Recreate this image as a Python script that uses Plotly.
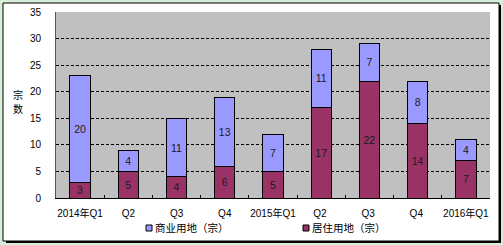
import plotly.graph_objects as go

categories = ["2014年Q1", "Q2", "Q3", "Q4", "2015年Q1", "Q2 ", "Q3 ", "Q4 ", "2016年Q1"]
residential = [3, 5, 4, 6, 5, 17, 22, 14, 7]
commercial = [20, 4, 11, 13, 7, 11, 7, 8, 4]
y_ticks = [0, 5, 10, 15, 20, 25, 30, 35]
legend_names = ["商业用地（宗）", "居住用地（宗）"]
colors = ["#9999ff", "#993366"]

FONT = "Liberation Sans, Arial, Noto Sans CJK SC, sans-serif"
PW, PH = 434, 186  # plot area size in px


def px_x(p):
    return (p - 56) / PW


def px_y(p):
    return (198 - p) / PH


fig = go.Figure()
fig.add_trace(go.Bar(
    x=categories, y=residential, name=legend_names[1], showlegend=False,
    marker=dict(color=colors[1], line=dict(color="#000000", width=1)),
    text=residential, textposition="inside", insidetextanchor="middle",
    textangle=0, textfont=dict(size=10.5, color="#1a1a1a", family=FONT),
))
fig.add_trace(go.Bar(
    x=categories, y=commercial, name=legend_names[0], showlegend=False,
    marker=dict(color=colors[0], line=dict(color="#000000", width=1)),
    text=commercial, textposition="inside", insidetextanchor="middle",
    textangle=0, textfont=dict(size=10.5, color="#1a1a1a", family=FONT),
))

shapes = [
    dict(type="rect", xref="paper", yref="paper", layer="below",
         x0=px_x(6), x1=px_x(501), y0=px_y(243), y1=px_y(5),
         fillcolor="#000000", line=dict(width=0)),
    dict(type="rect", xref="paper", yref="paper", layer="below",
         x0=px_x(3), x1=px_x(499), y0=px_y(241), y1=px_y(3),
         fillcolor="#ffffff", line=dict(color="#000000", width=1)),
    dict(type="rect", xref="paper", yref="paper", layer="below",
         x0=0, x1=1, y0=0, y1=1, fillcolor="#c0c0c0", line=dict(width=0)),
]
annotations = []
for ch, yy in zip(["宗", "数"], [94, 108]):
    annotations.append(dict(text=ch, xref="paper", yref="paper", x=px_x(18), y=px_y(yy),
                            xanchor="center", yanchor="middle", showarrow=False,
                            font=dict(size=10, family="Noto Sans CJK SC")))
leg_x = [146, 303]
for name, col, lx in zip(legend_names, colors, leg_x):
    shapes.append(dict(type="rect", xref="paper", yref="paper",
                       x0=px_x(lx), x1=px_x(lx + 6), y0=px_y(231), y1=px_y(225),
                       fillcolor=col, line=dict(color="#000000", width=1)))
    annotations.append(dict(text=name, xref="paper", yref="paper",
                            x=px_x(lx + 7), y=px_y(228), xanchor="left",
                            yanchor="middle", showarrow=False,
                            font=dict(size=10.5, family=FONT)))

fig.update_layout(
    width=503, height=245,
    barmode="stack", bargap=0.58,
    margin=dict(l=56, r=13, t=12, b=47),
    paper_bgcolor="#d9eed9", plot_bgcolor="rgba(0,0,0,0)",
    font=dict(family=FONT, size=10, color="#000000"),
    uniformtext=dict(minsize=9, mode="show"),
    showlegend=False,
    xaxis=dict(
        type="category", tickson="boundaries", ticks="inside", ticklen=3,
        tickcolor="#000000", showline=True, linecolor="#000000", linewidth=1,
        showgrid=False, tickfont=dict(size=10), ticklabelstandoff=6,
        tickangle=0, automargin=False,
    ),
    yaxis=dict(
        range=[0, 35], tickvals=y_ticks, showline=True, linecolor="#555555",
        linewidth=1, showgrid=True, gridcolor="#000000", gridwidth=1,
        griddash="3px,2px", zeroline=False, ticks="", tickfont=dict(size=10),
        ticklabelstandoff=12, automargin=False,
    ),
    shapes=shapes,
    annotations=annotations,
)

fig.write_html("out.html")
